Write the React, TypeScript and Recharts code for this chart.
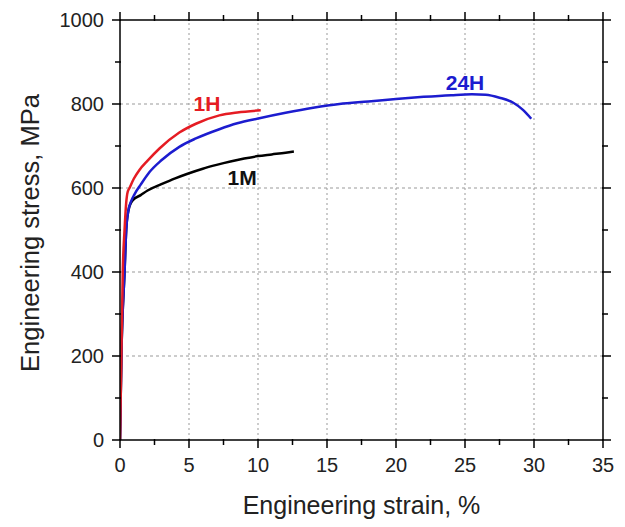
import React from 'react';
import { LineChart, Line, XAxis, YAxis, ReferenceLine, ReferenceDot, Label } from 'recharts';

const strain1H = [0, 0.1, 0.2, 0.33, 0.45, 0.55, 0.69, 1, 1.41, 2, 2.86, 4.3, 5.5, 7.2, 8.5, 10.2];
const stress1H = [0, 200, 400, 500, 565, 590, 600, 622, 643, 665, 694, 732, 753, 773, 780, 785];

const strain24H = [0, 0.1, 0.33, 0.45, 0.6, 0.8, 1.05, 1.5, 2.14, 3, 4.3, 5.5, 7.2, 8.5, 10.1, 12, 14, 15.9, 18, 20, 22, 24, 25.5, 26.5, 27.5, 28.5, 29.2, 29.8];
const stress24H = [0, 200, 400, 500, 545, 568, 585, 608, 638, 666, 698, 718, 740, 754, 766, 779, 791, 800, 806, 812, 817, 821, 823, 822, 815, 803, 786, 765];

const strain1M = [0, 0.1, 0.33, 0.45, 0.6, 0.8, 0.93, 1.5, 2, 3, 4, 4.9, 6, 7, 8, 9, 10, 11, 12, 12.6];
const stress1M = [0, 200, 400, 500, 545, 565, 571, 583, 594, 609, 623, 634, 646, 655, 663, 670, 676, 680, 684, 687];

const xTicks = [0, 2.5, 5, 7.5, 10, 12.5, 15, 17.5, 20, 22.5, 25, 27.5, 30, 32.5, 35];
const yTicks = [0, 100, 200, 300, 400, 500, 600, 700, 800, 900, 1000];
const xGrid = [5, 10, 15, 20, 25, 30];
const yGrid = [200, 400, 600, 800];

const toData = (xs: number[], ys: number[]) => xs.map((x, i) => ({ x, y: ys[i] }));
const data1H = toData(strain1H, stress1H);
const data24H = toData(strain24H, stress24H);
const data1M = toData(strain1M, stress1M);

const FONT = '"Liberation Sans", Arial, sans-serif';
const isMajorX = (v: number) => v % 5 === 0;
const isMajorY = (v: number) => v % 200 === 0;

const BottomTick = (p: any) => {
  const v = p.payload.value;
  const major = isMajorX(v);
  return (
    <g>
      <line x1={p.x} x2={p.x} y1={p.y - 1} y2={p.y + (major ? 8 : 5)} stroke="#000" strokeWidth={1.5} />
      {major && (
        <text x={p.x} y={p.y + 32} textAnchor="middle" fontSize={20} fontFamily={FONT} fill="#222">{v}</text>
      )}
    </g>
  );
};
const TopTick = (p: any) => {
  const v = p.payload.value;
  const major = isMajorX(v);
  return <line x1={p.x} x2={p.x} y1={p.y + 1} y2={p.y - (major ? 8 : 5)} stroke="#000" strokeWidth={1.5} />;
};
const LeftTick = (p: any) => {
  const v = p.payload.value;
  const major = isMajorY(v);
  return (
    <g>
      <line x1={p.x + 1} x2={p.x - (major ? 8 : 5)} y1={p.y} y2={p.y} stroke="#000" strokeWidth={1.5} />
      {major && (
        <text x={p.x - 16} y={p.y + 7} textAnchor="end" fontSize={20} fontFamily={FONT} fill="#222">{v}</text>
      )}
    </g>
  );
};
const RightTick = (p: any) => {
  const v = p.payload.value;
  const major = isMajorY(v);
  return <line x1={p.x - 1} x2={p.x + (major ? 8 : 5)} y1={p.y} y2={p.y} stroke="#000" strokeWidth={1.5} />;
};

export default function App() {
  return (
    <div style={{ position: 'absolute', left: 0, top: 0, background: '#fff' }}>
      <LineChart width={625} height={527} margin={{ top: 19, right: 21, bottom: 27, left: 40 }}>
        <XAxis xAxisId="b" type="number" dataKey="x" domain={[0, 35]} ticks={xTicks} interval={0}
          allowDataOverflow tickLine={false} tickSize={0} tickMargin={0} tick={<BottomTick />}
          axisLine={{ stroke: '#000', strokeWidth: 1.5 }} height={60}>
          <Label content={(props: any) => {
            const vb = props.viewBox;
            return (
              <text x={vb.x + vb.width / 2} y={514} textAnchor="middle" fontSize={25} fontFamily={FONT} fill="#222">
                Engineering strain, %
              </text>
            );
          }} />
        </XAxis>
        <XAxis xAxisId="t" orientation="top" type="number" dataKey="x" domain={[0, 35]} ticks={xTicks} interval={0}
          allowDataOverflow tickLine={false} tickSize={0} tickMargin={0} tick={<TopTick />}
          axisLine={{ stroke: '#000', strokeWidth: 1.5 }} height={1} />
        <YAxis yAxisId="l" type="number" domain={[0, 1000]} ticks={yTicks} interval={0} allowDataOverflow
          tickLine={false} tickSize={0} tickMargin={0} tick={<LeftTick />}
          axisLine={{ stroke: '#000', strokeWidth: 1.5 }} width={80}>
          <Label content={() => {
            const cy = 233;
            return (
              <text x={30} y={cy} transform={`rotate(-90, 30, ${cy})`} textAnchor="middle" dominantBaseline="central"
                fontSize={25.5} fontFamily={FONT} fill="#222">
                Engineering stress, MPa
              </text>
            );
          }} />
        </YAxis>
        <YAxis yAxisId="r" orientation="right" type="number" domain={[0, 1000]} ticks={yTicks} interval={0} allowDataOverflow
          tickLine={false} tickSize={0} tickMargin={0} tick={<RightTick />}
          axisLine={{ stroke: '#000', strokeWidth: 1.5 }} width={1} />
        {xGrid.map((v) => (
          <ReferenceLine key={'gx' + v} xAxisId="b" yAxisId="l" x={v} stroke="#999" strokeDasharray="2 3" strokeWidth={1} />
        ))}
        {yGrid.map((v) => (
          <ReferenceLine key={'gy' + v} xAxisId="b" yAxisId="l" y={v} stroke="#999" strokeDasharray="3 3" strokeWidth={1} />
        ))}
        <Line xAxisId="b" yAxisId="l" data={data1M} dataKey="y" type="monotone" stroke="#000" strokeWidth={2.5} dot={false} isAnimationActive={false} />
        <Line xAxisId="b" yAxisId="l" data={data24H} dataKey="y" type="monotone" stroke="#1c1ccf" strokeWidth={2.5} dot={false} isAnimationActive={false} />
        <Line xAxisId="b" yAxisId="l" data={data1H} dataKey="y" type="monotone" stroke="#e51c23" strokeWidth={2.5} dot={false} isAnimationActive={false} />
        <ReferenceDot xAxisId="b" yAxisId="l" x={6.3} y={800} r={0} stroke="none"
          label={{ value: '1H', position: 'center', fill: '#e51c23', fontSize: 21, fontWeight: 'bold', fontFamily: FONT }} />
        <ReferenceDot xAxisId="b" yAxisId="l" x={25} y={850} r={0} stroke="none"
          label={{ value: '24H', position: 'center', fill: '#1c1ccf', fontSize: 21, fontWeight: 'bold', fontFamily: FONT }} />
        <ReferenceDot xAxisId="b" yAxisId="l" x={8.85} y={625} r={0} stroke="none"
          label={{ value: '1M', position: 'center', fill: '#111', fontSize: 21, fontWeight: 'bold', fontFamily: FONT }} />
      </LineChart>
    </div>
  );
}
